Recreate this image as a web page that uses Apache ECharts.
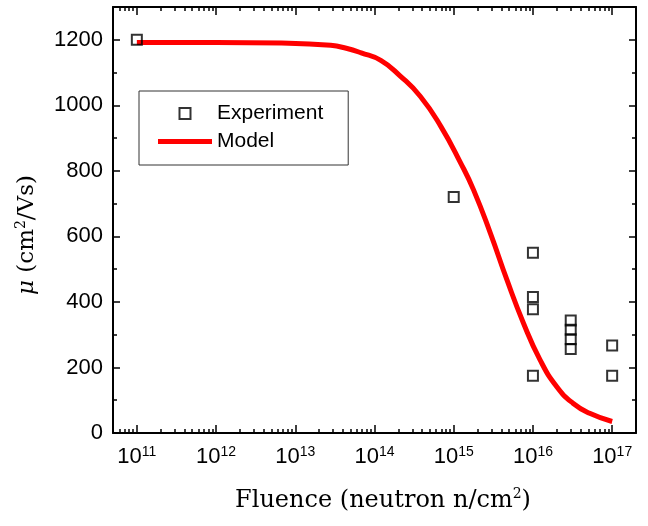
<!DOCTYPE html>
<html>
<head>
<meta charset="utf-8">
<script src="https://cdn.jsdelivr.net/npm/echarts@6.0.0/dist/echarts.min.js"></script>
<style>
html, body { margin: 0; padding: 0; background: #fff; }
#chart { width: 648px; height: 526px; }
</style>
</head>
<body>
<div id="chart"></div>
<script>
// Experiment points (fluence in n/cm2, mobility in cm2/Vs)
const fluenceExp = [1e11, 1e15, 1e16, 1e16, 1e16, 1e16, 3e16, 3e16, 3e16, 3e16, 1e17, 1e17];
const mobilityExp = [1200, 720, 550, 415, 378, 175, 343, 315, 286, 256, 267, 175];

// Model curve
const fluenceModel = [1e11, 1e12, 6.7e12, 2.8e13, 4.4e13, 6.8e13, 1.2e14, 2.1e14, 3.8e14, 6.9e14, 1.23e15,
    1.78e15, 2.9e15, 4.7e15, 7.6e15, 1.23e16, 2e16, 3.2e16, 5.2e16, 1e17];
const mobilityModel = [1192, 1192, 1190, 1183, 1174, 1160, 1137, 1090, 1027, 935, 823,
    742, 610, 467, 335, 223, 141, 91, 60, 35];

// Axis ticks
const xDecades = [11, 12, 13, 14, 15, 16, 17];
const xMinorSteps = [2, 3, 4, 5, 6, 7, 8, 9];
const yMajor = [0, 200, 400, 600, 800, 1000, 1200];
const yMinor = [100, 300, 500, 700, 900, 1100];

const xMin = Math.log10(5e10);
const xMax = Math.log10(2e17);

const xMinor = [];
for (let d = 10; d <= 17; d++) {
    xMinorSteps.forEach(function(k) {
        const v = d + Math.log10(k);
        if (v > xMin && v < xMax) xMinor.push(v);
    });
}

const sans = 'Liberation Sans';
const serif = 'DejaVu Serif';

function xAxes(position, labels) {
    return [{
        type: 'value', min: xMin, max: xMax, position: position,
        axisLine: { show: true, onZero: false, lineStyle: { color: '#000', width: 2 } },
        axisTick: { inside: true, length: 8, customValues: xDecades, lineStyle: { color: '#000', width: 1.5 } },
        axisLabel: labels ? {
            customValues: xDecades, margin: 12,
            formatter: function(v) { return '{b|10}{s|' + Math.round(v) + '}'; },
            rich: {
                b: { fontFamily: sans, fontSize: 22, color: '#000', lineHeight: 24 },
                s: { fontFamily: sans, fontSize: 14, color: '#000', verticalAlign: 'top', lineHeight: 14 }
            }
        } : { show: false },
        splitLine: { show: false }
    }, {
        type: 'value', min: xMin, max: xMax, position: position,
        axisLine: { show: false, onZero: false },
        axisTick: { inside: true, length: 4, customValues: xMinor, lineStyle: { color: '#000', width: 1.5 } },
        axisLabel: { show: false },
        splitLine: { show: false }
    }];
}

function yAxes(position, labels) {
    return [{
        type: 'value', min: 0, max: 1300, position: position,
        axisLine: { show: true, onZero: false, lineStyle: { color: '#000', width: 2 } },
        axisTick: { inside: true, length: 7, customValues: yMajor, lineStyle: { color: '#000', width: 1.5 } },
        axisLabel: labels ? {
            customValues: yMajor, margin: 10,
            formatter: function(v) { return String(v); },
            fontFamily: sans, fontSize: 22, color: '#000'
        } : { show: false },
        splitLine: { show: false }
    }, {
        type: 'value', min: 0, max: 1300, position: position,
        axisLine: { show: false, onZero: false },
        axisTick: { inside: true, length: 4, customValues: yMinor, lineStyle: { color: '#000', width: 1.5 } },
        axisLabel: { show: false },
        splitLine: { show: false }
    }];
}

const chart = echarts.init(document.getElementById('chart'));

chart.setOption({
    animation: false,
    backgroundColor: '#fff',
    grid: { left: 113, right: 12, top: 7, bottom: 93, outerBoundsMode: 'none' },
    xAxis: xAxes('bottom', true).concat(xAxes('top', false)),
    yAxis: yAxes('left', true).concat(yAxes('right', false)),
    legend: {
        orient: 'vertical', left: 139, top: 91,
        selectedMode: false,
        borderColor: '#333', borderWidth: 1,
        padding: [12, 25, 13, 19],
        itemWidth: 54, itemHeight: 11, itemGap: 7,
        symbolKeepAspect: true,
        textStyle: { fontFamily: sans, fontSize: 21, color: '#000' },
        data: [
            { name: 'Experiment', icon: 'path://M0,0L10,0L10,10L0,10Z',
              itemStyle: { color: 'transparent', borderColor: '#000', borderWidth: 2 } },
            { name: 'Model', icon: 'path://M0,0L54,0L54,5L0,5Z',
              itemStyle: { color: '#ff0000', borderWidth: 0 } }
        ]
    },
    graphic: [{
        type: 'text', x: 27, y: 235, rotation: Math.PI / 2,
        style: {
            text: '{i|μ} (cm{s|2}/Vs)',
            align: 'center', verticalAlign: 'middle',
            fill: '#000',
            rich: {
                i: { fontFamily: serif, fontSize: 23, fontStyle: 'italic', lineHeight: 26 },
                s: { fontFamily: serif, fontSize: 14, verticalAlign: 'top', lineHeight: 14 }
            },
            fontFamily: serif, fontSize: 23, lineHeight: 26
        }
    }, {
        type: 'text', x: 383, y: 501,
        style: {
            text: 'Fluence (neutron n/cm{s|2})',
            align: 'center', verticalAlign: 'middle',
            fill: '#000',
            rich: {
                s: { fontFamily: serif, fontSize: 14, verticalAlign: 'top', lineHeight: 14 }
            },
            fontFamily: serif, fontSize: 24, lineHeight: 27
        }
    }],
    series: [{
        name: 'Model', type: 'line', xAxisIndex: 0, yAxisIndex: 0,
        data: fluenceModel.map(function(f, i) { return [Math.log10(f), mobilityModel[i]]; }),
        smooth: 0.5, symbol: 'none', showSymbol: false,
        lineStyle: { color: '#ff0000', width: 5 },
        itemStyle: { color: '#ff0000' },
        z: 2
    }, {
        name: 'Experiment', type: 'scatter', xAxisIndex: 0, yAxisIndex: 0,
        data: fluenceExp.map(function(f, i) { return [Math.log10(f), mobilityExp[i]]; }),
        symbol: 'rect', symbolSize: 10,
        itemStyle: { color: 'transparent', borderColor: '#000', borderWidth: 2 },
        z: 3
    }]
});
</script>
</body>
</html>
